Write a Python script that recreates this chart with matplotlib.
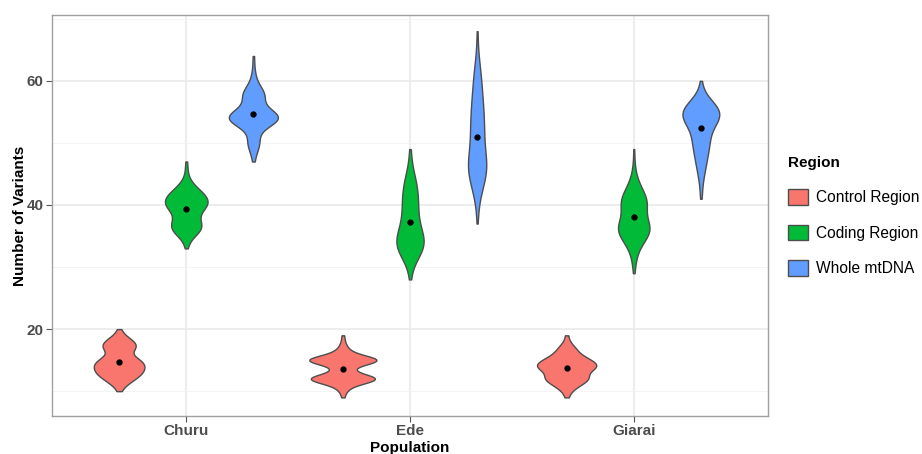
import numpy as np
import matplotlib.pyplot as plt
from matplotlib.patches import Patch

populations = ["Churu", "Ede", "Giarai"]
regions = ["Control Region", "Coding Region", "Whole mtDNA"]
colors = ["#F8766D", "#00BA38", "#619CFF"]

# number of variants per sample, stored as (value, count) tables
churu_control_vals = [10, 11, 12, 13, 14, 15, 16, 17, 18, 19, 20]
churu_control_cnts = [1, 4, 11, 16, 17, 16, 4, 13, 11, 3, 1]
churu_coding_vals = [33, 34, 35, 36, 37, 38, 39, 40, 41, 42, 43, 44, 45, 46, 47]
churu_coding_cnts = [1, 2, 6, 14, 13, 9, 12, 19, 18, 14, 7, 3, 1, 1, 1]
churu_whole_vals = [47, 48, 49, 50, 51, 52, 53, 54, 55, 56, 57, 58, 59, 60, 61, 62, 64]
churu_whole_cnts = [1, 1, 3, 5, 3, 3, 12, 22, 14, 4, 7, 9, 4, 2, 1, 1, 1]

ede_control_vals = [9, 10, 11, 12, 13, 14, 15, 16, 17, 18, 19]
ede_control_cnts = [1, 2, 6, 30, 6, 5, 32, 6, 3, 1, 1]
ede_coding_vals = [28, 29, 30, 31, 32, 33, 34, 35, 36, 37, 38, 39, 40, 41, 42, 43, 44,
                   45, 46, 47, 48, 49]
ede_coding_cnts = [1, 1, 2, 5, 9, 13, 14, 12, 10, 8, 7, 7, 7, 7, 7, 6, 5,
                   4, 2, 1, 1, 1]
ede_whole_vals = [37, 39, 40, 41, 42, 43, 44, 45, 46, 47, 48, 49, 50, 51, 52, 53, 54,
                  55, 56, 57, 58, 59, 60, 61, 62, 63, 64, 66, 68]
ede_whole_cnts = [1, 1, 1, 2, 3, 5, 7, 9, 10, 9, 7, 6, 6, 6, 6, 6, 6,
                  6, 5, 5, 4, 4, 4, 3, 3, 2, 1, 1, 1]

giarai_control_vals = [9, 10, 11, 12, 13, 14, 15, 16, 17, 18, 19]
giarai_control_cnts = [1, 2, 7, 13, 9, 18, 13, 6, 5, 1, 1]
giarai_coding_vals = [29, 30, 31, 32, 33, 34, 35, 36, 37, 38, 39, 40, 41, 42, 43, 44,
                      45, 46, 47, 49]
giarai_coding_cnts = [1, 1, 2, 3, 5, 9, 14, 17, 15, 11, 11, 13, 13, 10, 6, 4,
                      2, 1, 1, 1]
giarai_whole_vals = [41, 42, 43, 44, 45, 46, 47, 48, 49, 50, 51, 52, 53, 54, 55, 56,
                     57, 58, 59, 60]
giarai_whole_cnts = [1, 1, 1, 2, 3, 4, 5, 6, 7, 8, 8, 9, 13, 18, 19, 15,
                     8, 3, 1, 1]

groups = [
    [(churu_control_vals, churu_control_cnts), (churu_coding_vals, churu_coding_cnts),
     (churu_whole_vals, churu_whole_cnts)],
    [(ede_control_vals, ede_control_cnts), (ede_coding_vals, ede_coding_cnts),
     (ede_whole_vals, ede_whole_cnts)],
    [(giarai_control_vals, giarai_control_cnts), (giarai_coding_vals, giarai_coding_cnts),
     (giarai_whole_vals, giarai_whole_cnts)],
]


def kde(data):
    # gaussian kde with R's bw.nrd0, trimmed to the data range
    n = len(data)
    sd = np.std(data, ddof=1)
    iqr = np.subtract(*np.percentile(data, [75, 25]))
    bw = 0.9 * min(sd, iqr / 1.34) * n ** -0.2
    y = np.linspace(data.min(), data.max(), 512)
    d = np.exp(-0.5 * ((y[:, None] - data[None, :]) / bw) ** 2).sum(axis=1)
    d /= n * bw * np.sqrt(2 * np.pi)
    return y, d


plt.rcParams['font.family'] = ['Liberation Sans', 'DejaVu Sans']
fig = plt.figure(figsize=(9.22, 4.54), dpi=100)
ax = fig.add_axes([52 / 922, 1 - 416 / 454, (768 - 52) / 922, (416 - 15) / 454])

dens = []
for i, pop in enumerate(groups):
    for j, (vals, cnts) in enumerate(pop):
        data = np.repeat(np.array(vals, dtype=float), cnts)
        y, d = kde(data)
        dens.append((i, j, data, y, d))
dmax = max(d.max() for _, _, _, _, d in dens)

for i, j, data, y, d in dens:
    x0 = i + 1 + (j - 1) * 0.3
    w = d / dmax * 0.15
    ax.fill_betweenx(y, x0 - w, x0 + w, facecolor=colors[j], edgecolor='#4d4d4d',
                     linewidth=1.0, zorder=3)
    ax.plot([x0], [data.mean()], 'o', color='black', markersize=3.5, zorder=4)

ax.set_xlim(0.4, 3.6)
ax.set_ylim(6.0, 70.6)
ax.set_xticks([1, 2, 3])
ax.set_xticklabels(populations)
ax.set_yticks([20, 40, 60])
ax.set_yticks([10, 30, 50, 70], minor=True)
ax.grid(True, which='major', color='#e8e8e8', linewidth=1.1, zorder=0)
ax.grid(True, which='minor', axis='y', color='#f2f2f2', linewidth=0.6, zorder=0)
ax.set_axisbelow(True)
for s in ax.spines.values():
    s.set_color('#a0a0a0')
    s.set_linewidth(1.0)
ax.tick_params(axis='both', which='major', length=4, width=0.8, color='#555555',
               labelsize=11, labelcolor='#4d4d4d', pad=2)
ax.tick_params(axis='y', which='minor', length=0)
for lab in ax.get_xticklabels() + ax.get_yticklabels():
    lab.set_fontweight('bold')
ax.set_xlabel("Population", fontsize=11, fontweight='bold', labelpad=2)
ax.set_ylabel("Number of Variants", fontsize=11, fontweight='bold', labelpad=0)

handles = [Patch(facecolor=c, edgecolor='#4d4d4d', linewidth=1.0) for c in colors]
leg = fig.legend(handles, regions, title="Region", loc='upper left',
                 bbox_to_anchor=(774 / 922, 1 - 142 / 454), frameon=False,
                 fontsize=11.2, handlelength=1.3, handleheight=1.15,
                 labelspacing=1.25, handletextpad=0.5, alignment='left',
                 title_fontproperties={'weight': 'bold', 'size': 11})

fig.savefig("out.png", dpi=100)
